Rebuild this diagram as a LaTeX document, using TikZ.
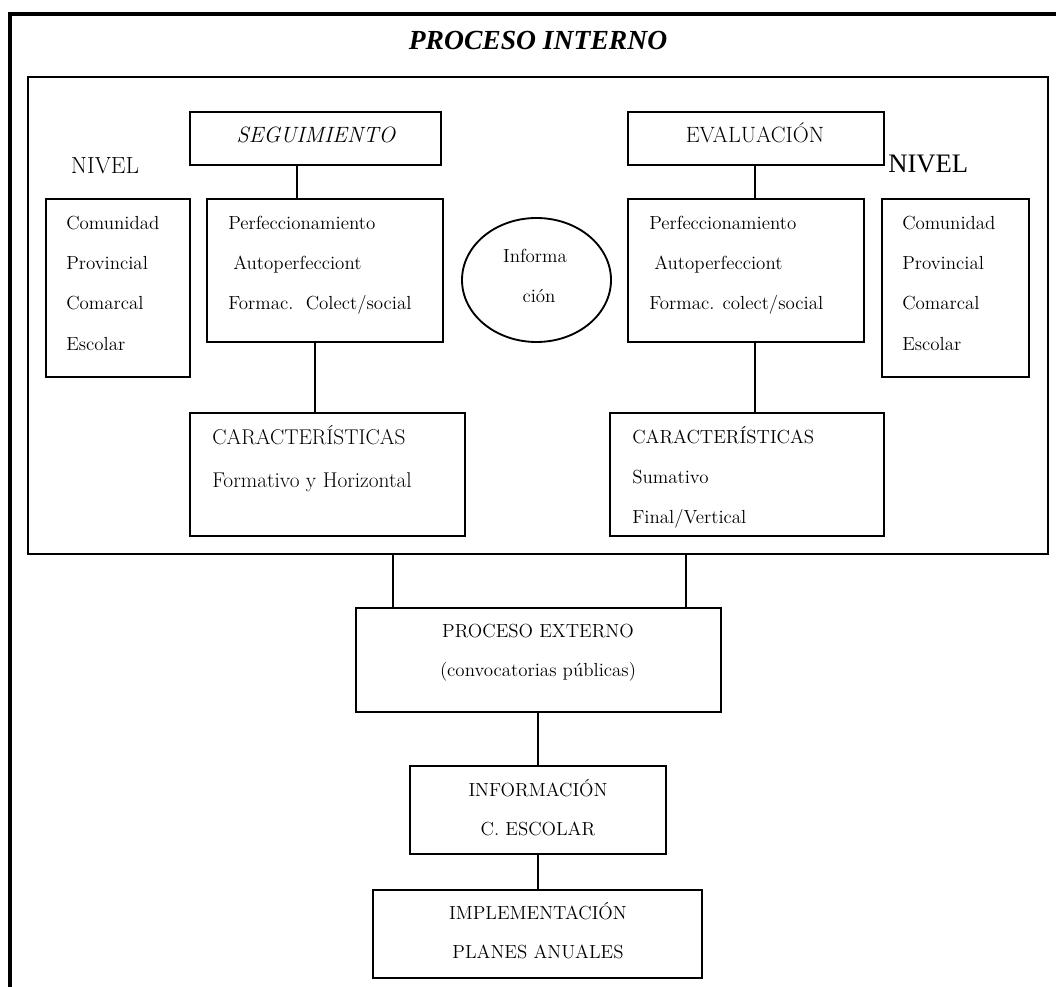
\documentclass[tikz,border=0pt]{standalone}
\usepackage{fontspec}
\newfontfamily\timesfont{Liberation Serif}
\usetikzlibrary{fit,shapes.geometric}
\begin{document}
\begin{tikzpicture}[x=0.75pt,y=-0.75pt,
  box/.style={draw, line width=1.4pt, inner sep=0pt},
  link/.style={line width=1.4pt},
  body/.style={inner sep=0pt, anchor=base west, font=\fontsize{14.2}{17}\selectfont},
  bodyc/.style={inner sep=0pt, anchor=base, font=\fontsize{14.2}{17}\selectfont},
  caract/.style={inner sep=0pt, anchor=base west, font=\fontsize{16}{19}\selectfont},
  head/.style={inner sep=0pt, anchor=base, font=\fontsize{16.6}{20}\selectfont}]
\useasboundingbox (0,0) rectangle (1056,987);

% outer frame (open at the bottom and right)
\draw[line width=2.8pt, line join=miter] (10,987) -- (10,14) -- (1056,14);
\node[inner sep=0pt, anchor=base, font=\timesfont\bfseries\itshape\fontsize{20.7}{24}\selectfont]
  (titulo) at (538,50) {PROCESO INTERNO};

% internal process frame
\node[draw, line width=1.2pt, inner sep=0pt, fit={(28,77) (1048,554)}] (interno) {};

% left column: follow-up
\node[box, fit={(190,112) (441,165)}] (seg) {};
\node[head, font=\fontsize{16.6}{20}\selectfont\itshape] (segt) at (316,143) {SEGUIMIENTO};
\node[inner sep=0pt, anchor=base, font=\fontsize{17.5}{20}\selectfont] (nivelL) at (105,174) {NIVEL};

\node[box, fit={(46,199) (190,377)}] (nivL) {};
\node[body] (nl1) at (66,230) {Comunidad};
\node[body] (nl2) at (66,270) {Provincial};
\node[body] (nl3) at (66,310) {Comarcal};
\node[body] (nl4) at (66,350) {Escolar};

\node[box, fit={(207,199) (443,342)}] (perfL) {};
\node[body] (pl1) at (228,230) {Perfeccionamiento};
\node[body] (pl2) at (233,270) {Autoperfecciont};
\node[body] (pl3) at (228,310) {Formac.\ \ Colect/social};

\node[box, fit={(190,413) (465,536)}] (carL) {};
\node[caract] (cl1) at (212,444) {CARACTERÍSTICAS};
\node[caract] (cl2) at (212,487) {Formativo y Horizontal};

% centre: information
\node[draw, line width=1.4pt, ellipse, inner sep=0pt, minimum width=111.75pt, minimum height=93pt] (info) at (536.5,280) {};
\node[bodyc] (i1) at (535,263) {Informa};
\node[bodyc] (i2) at (539,303) {ción};

% right column: evaluation
\node[box, fit={(628,112) (884,165)}] (eval) {};
\node[head] (evalt) at (755,143) {EVALUACIÓN};
\node[inner sep=0pt, anchor=base west, font=\timesfont\fontsize{20}{24}\selectfont] (nivelR) at (888,173) {NIVEL};

\node[box, fit={(628,199) (864,342)}] (perfR) {};
\node[body] (pr1) at (649,230) {Perfeccionamiento};
\node[body] (pr2) at (654,270) {Autoperfecciont};
\node[body] (pr3) at (649,310) {Formac. colect/social};

\node[box, fit={(882,199) (1029,377)}] (nivR) {};
\node[body] (nr1) at (902,230) {Comunidad};
\node[body] (nr2) at (902,270) {Provincial};
\node[body] (nr3) at (902,310) {Comarcal};
\node[body] (nr4) at (902,350) {Escolar};

\node[box, fit={(610,413) (884,536)}] (carR) {};
\node[body] (cr1) at (632,443) {CARACTERÍSTICAS};
\node[body] (cr2) at (632,483) {Sumativo};
\node[body] (cr3) at (632,523) {Final/Vertical};

% external chain
\node[box, fit={(356,608) (721,712)}] (ext) {};
\node[bodyc] (e1) at (538,637) {PROCESO EXTERNO};
\node[bodyc] (e2) at (538,676) {(convocatorias públicas)};

\node[box, fit={(410,766) (666,854)}] (infor) {};
\node[bodyc] (f1) at (538,796) {INFORMACIÓN};
\node[bodyc] (f2) at (538,835) {C. ESCOLAR};

\node[box, fit={(373,890) (702,978)}] (impl) {};
\node[bodyc] (m1) at (538,919) {IMPLEMENTACIÓN};
\node[bodyc] (m2) at (538,958) {PLANES ANUALES};

% connector columns
\coordinate (xa) at (297,0);
\coordinate (xb) at (315,0);
\coordinate (xc) at (755,0);
\coordinate (xd) at (393,0);
\coordinate (xe) at (686,0);
\coordinate (xf) at (538,0);

\draw[link] (seg.south -| xa) -- (perfL.north -| xa);
\draw[link] (perfL.south -| xb) -- (carL.north -| xb);
\draw[link] (eval.south -| xc) -- (perfR.north -| xc);
\draw[link] (perfR.south -| xc) -- (carR.north -| xc);
\draw[link] (interno.south -| xd) -- (ext.north -| xd);
\draw[link] (interno.south -| xe) -- (ext.north -| xe);
\draw[link] (ext.south -| xf) -- (infor.north -| xf);
\draw[link] (infor.south -| xf) -- (impl.north -| xf);
\end{tikzpicture}
\end{document}
